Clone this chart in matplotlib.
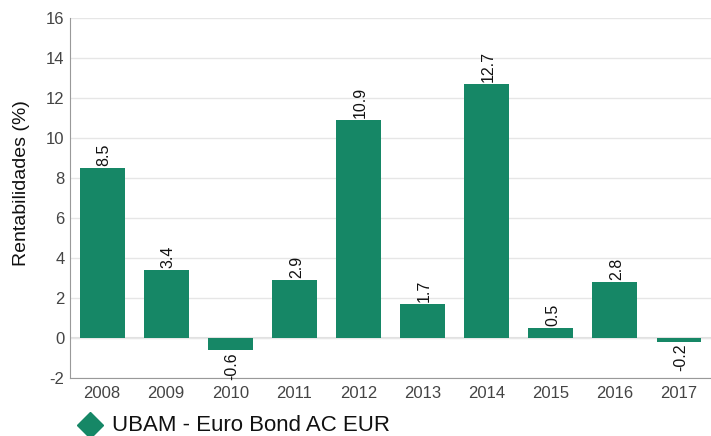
import matplotlib
matplotlib.use("Agg")
import matplotlib.pyplot as plt

years = ["2008", "2009", "2010", "2011", "2012", "2013", "2014", "2015", "2016", "2017"]
returns = [8.5, 3.4, -0.6, 2.9, 10.9, 1.7, 12.7, 0.5, 2.8, -0.2]
series_name = "UBAM - Euro Bond AC EUR"
bar_color = "#168766"

plt.rcParams["font.family"] = ["Liberation Sans", "DejaVu Sans"]
plt.rcParams["axes.unicode_minus"] = False

fig = plt.figure(figsize=(7.11, 4.36), dpi=100)
ax = fig.add_axes([0.0985, 0.133, 0.9015, 0.826])

x = range(len(years))
ax.bar(x, returns, width=0.70, color=bar_color, zorder=3)

for xi, v in zip(x, returns):
    if v >= 0:
        ax.text(xi + 0.03, v + 0.1, f"{v:.1f}", rotation=90, ha="center", va="bottom", fontsize=11.5, color="#111111")
    else:
        ax.text(xi + 0.03, v - 0.1, f"{v:.1f}", rotation=90, ha="center", va="top", fontsize=11.5, color="#111111")

ax.set_ylim(-2, 16)
ax.set_yticks(range(-2, 17, 2))
ax.set_xlim(-0.5, len(years) - 0.5)
ax.set_xticks(list(x))
ax.set_xticklabels(years)
ax.grid(axis="y", color="#e6e6e6", linewidth=1, zorder=0)
ax.axhline(0, color="#e0e0e0", linewidth=1.5, zorder=1)
ax.tick_params(length=0, labelsize=12, colors="#444444")
ax.tick_params(axis="x", pad=6)
ax.tick_params(axis="y", pad=4)
for s in ["top", "right"]:
    ax.spines[s].set_visible(False)
ax.spines["left"].set_color("#999999")
ax.spines["bottom"].set_color("#999999")
ax.set_ylabel("Rentabilidades (%)", fontsize=14, color="#111111")
ax.yaxis.set_label_coords(-0.063, 0.54)

# legend drawn by hand so the diamond sits where the reference has it
ax.plot([0.127], [0.025], marker="D", color=bar_color, markersize=13,
        transform=fig.transFigure, clip_on=False)
fig.text(0.157, 0.023, series_name, fontsize=16, color="#111111", va="center", ha="left")

fig.savefig("out.png", dpi=100)
